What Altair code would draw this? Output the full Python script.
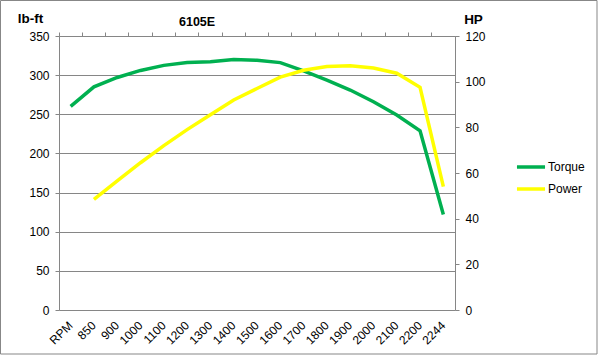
import altair as alt
import pandas as pd

rpm = ["RPM", "850", "900", "1000", "1100", "1200", "1300", "1400", "1500",
       "1600", "1700", "1800", "1900", "2000", "2100", "2200", "2244"]
torque = [260, 285, 297, 306, 312.5, 316, 317, 320, 319,
          316, 305.5, 293.5, 281, 266, 249, 229, 122]
power = [None, 48.5, 56.5, 64.5, 72, 79, 85.5, 92, 97,
         102, 105, 106.6, 107, 106, 103.7, 97.5, 54]

df = pd.DataFrame({"rpm": rpm, "torque": torque, "power": power})

GRID = "#868686"
FONT = "Liberation Sans"

color = alt.Color(
    "series:N",
    scale=alt.Scale(domain=["Torque", "Power"], range=["#00B050", "#FFFF00"]),
    legend=alt.Legend(
        title=None, orient="none", legendX=458, legendY=117,
        symbolType="M-1.17,0H1.17", symbolSize=576, symbolStrokeWidth=3.5,
        labelFontSize=12, labelFont=FONT, labelColor="#000000",
        labelOffset=3, rowPadding=1,
    ),
)

xscale = alt.Scale(type="band", paddingInner=0, paddingOuter=0)

torque_line = alt.Chart(df).transform_calculate(series="'Torque'").mark_line(
    strokeWidth=3.5
).encode(
    x=alt.X("rpm:N", sort=rpm, scale=xscale,
            axis=alt.Axis(title=None, labelAngle=-45, labelAlign="right",
                          labelBaseline="middle", ticks=False, domain=False,
                          labelPadding=13, labelFontSize=12, labelFont=FONT,
                          labelColor="#000000")),
    y=alt.Y("torque:Q", scale=alt.Scale(domain=[0, 350], nice=False),
            axis=alt.Axis(title="lb-ft", titleAngle=0, titleX=-29, titleY=-18,
                          titleAlign="center", titleBaseline="middle",
                          titleFontSize=13.5, titleFont=FONT, titleFontWeight="bold",
                          values=list(range(0, 351, 50)), grid=True,
                          gridColor=GRID, domainColor=GRID, tickColor=GRID,
                          tickSize=4, labelPadding=6, labelFontSize=12,
                          labelFont=FONT, labelColor="#000000")),
    color=color,
)

power_line = alt.Chart(df).transform_filter("datum.power != null").transform_calculate(
    series="'Power'").mark_line(strokeWidth=3.5).encode(
    x=alt.X("rpm:N", sort=rpm, scale=xscale,
            axis=alt.Axis(title=None, labels=False, bandPosition=0, ticks=True,
                          tickSize=4, tickColor=GRID, domainColor=GRID)),
    y=alt.Y("power:Q", scale=alt.Scale(domain=[0, 120], nice=False),
            axis=alt.Axis(orient="right", title="HP", titleAngle=0, titleX=18,
                          titleY=-17, titleAlign="center", titleBaseline="middle",
                          titleFontSize=13.5, titleFont=FONT, titleFontWeight="bold",
                          values=list(range(0, 121, 20)), grid=False,
                          domainColor=GRID, tickColor=GRID, tickSize=4,
                          labelPadding=6, labelFontSize=12, labelFont=FONT,
                          labelColor="#000000")),
    color=color,
)

border = alt.Chart(alt.Data(values=[{}])).mark_rect(
    filled=False, stroke="#878787", strokeWidth=1
).encode(
    x=alt.value(-58.5), x2=alt.value(538), y=alt.value(-35.5), y2=alt.value(318)
)

chart = alt.layer(border, torque_line, power_line).resolve_scale(
    y="independent"
).resolve_axis(x="independent").properties(
    width=396, height=274,
    title=alt.TitleParams("6105E", anchor="start", frame="group", dx=120, dy=32,
                          fontSize=12.5, font=FONT, fontWeight="bold", color="#000000"),
    padding={"left": 59, "top": 36, "right": 145, "bottom": 45},
    autosize=alt.AutoSizeParams(type="none"),
).configure_view(stroke=None).configure(background="#ffffff")

chart.save("out.html", embed_options={"renderer": "svg", "actions": False})
